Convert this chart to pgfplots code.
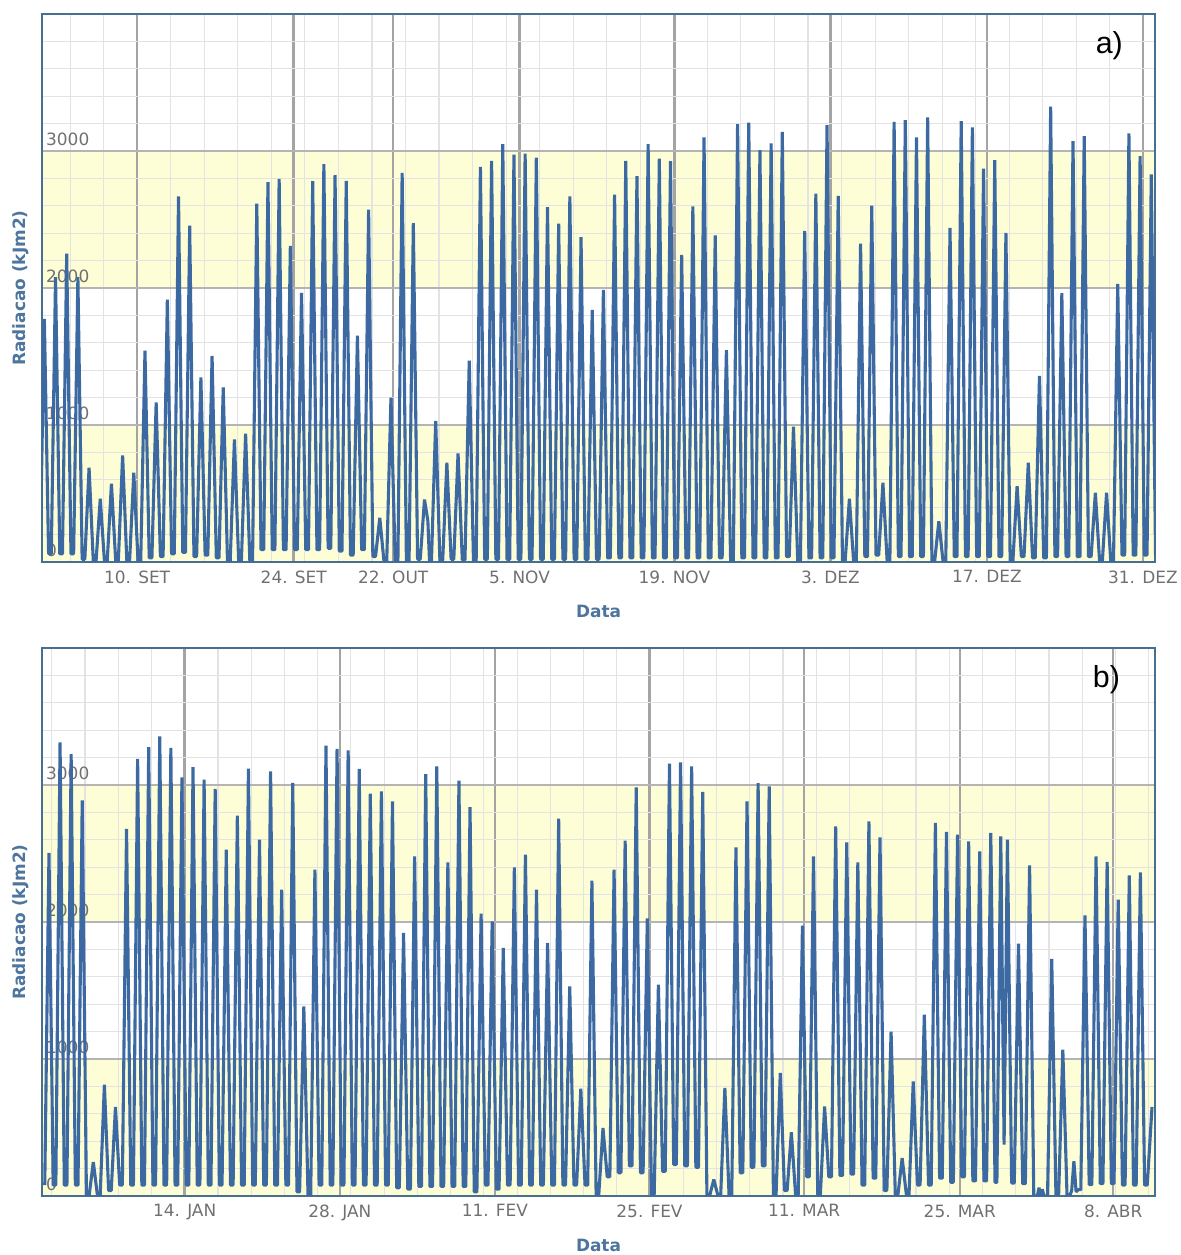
\documentclass[border=0pt]{standalone}
\usepackage{fontspec}
\setmainfont{DejaVu Sans}
\newfontfamily\arialfont{Liberation Sans}
\usepackage{pgfplots}
\pgfplotsset{compat=1.18}
\definecolor{serie}{HTML}{3C69A2}
\definecolor{band}{HTML}{FEFED6}
\definecolor{frame}{HTML}{466F91}
\definecolor{titlec}{HTML}{4D759E}
\definecolor{ticklab}{HTML}{707070}
\definecolor{majgrid}{HTML}{A4A4A4}
\definecolor{hgrid}{HTML}{B4B4B4}
\definecolor{mingrid}{HTML}{E3E3E3}
\pgfplotsset{
  radstyle/.style={
    set layers=standard,
    scale only axis, width=1113bp, height=548bp,
    ymin=0, ymax=4000,
    ytick={0,1000,2000,3000,4000},
    yticklabels={0,1000,2000,3000,{}},
    minor y tick num=4,
    ymajorgrids, xmajorgrids, yminorgrids, xminorgrids,
    every major x grid/.style={draw=majgrid, line width=2.5bp},
    every major y grid/.style={draw=hgrid, line width=1.4bp},
    every minor x grid/.style={draw=mingrid, line width=1.1bp},
    every minor y grid/.style={draw=mingrid, line width=1.1bp},
    major tick length=0pt, minor tick length=0pt,
    tick style={draw=none},
    axis line style={draw=frame, line width=1.8bp},
    tick label style={font=\fontsize{17}{20}\selectfont, text=ticklab},
    yticklabel style={anchor=base west, inner sep=0pt, xshift=4bp, yshift=5bp},
    xticklabel style={yshift=-5bp},
    xlabel={Data}, ylabel={Radiacao (kJm2)},
    label style={font=\fontsize{17}{20}\selectfont\bfseries, text=titlec},
    xlabel style={at={(axis description cs:0.5,0)}, anchor=center, yshift=-49bp},
    ylabel style={at={([xshift=-21bp]axis description cs:0,0.5)}, anchor=center},
  },
  serieline/.style={serie, line width=3.1bp, line join=bevel, mark=none},
  bandfill/.style={draw=none, fill=band, on layer=axis background, forget plot},
}
\begin{document}
\begin{tikzpicture}
% ---------------- panel a ----------------
\begin{axis}[radstyle, at={(42bp,693bp)}, anchor=south west,
  xmin=0.79, xmax=100.34,
  xtick={9.3,23.3,32.2,43.5,57.35,71.3,85.3,99.25},
  xticklabels={10. SET,24. SET,22. OUT,5. NOV,19. NOV,3. DEZ,17. DEZ,31. DEZ},
  minor xtick={0.3,3.3,...,99.3}]
\addplot[bandfill] coordinates {(0.79,0)(100.34,0)(100.34,1000)(0.79,1000)} -- cycle;
\addplot[bandfill] coordinates {(0.79,2000)(100.34,2000)(100.34,3000)(0.79,3000)} -- cycle;
\addplot[serieline] coordinates {
(0.62,60)(1,1774)(1.38,60) (1.62,60)(2,2079)(2.38,60) (2.62,60)(3,2250)(3.38,60)
(3.62,60)(4,2079)(4.38,20) (4.62,20)(5,688)(5.38,0) (5.62,0)(6,461)(6.38,0)
(6.62,0)(7,571)(7.38,10) (7.62,10)(8,778)(8.38,0) (8.62,0)(9,651)(9.38,5)
(9.62,5)(10,1542)(10.38,30) (10.62,30)(11,1164)(11.38,40) (11.62,40)(12,1915)(12.38,60)
(12.62,60)(13,2669)(13.38,70) (13.62,70)(14,2455)(14.38,40) (14.62,40)(15,1347)(15.38,50)
(15.62,50)(16,1505)(16.38,30) (16.62,30)(17,1274)(17.38,0) (17.62,0)(18,895)(18.38,0)
(18.62,0)(19,937)(19.38,0) (19.62,0)(20,2616)(20.38,90) (20.62,90)(21,2772)(21.38,90)
(21.62,90)(22,2796)(22.38,90) (22.62,90)(23,2308)(23.38,90) (23.62,90)(24,1964)(24.38,90)
(24.62,90)(25,2779)(25.38,90) (25.62,90)(26,2904)(26.38,100) (26.62,100)(27,2823)(27.38,80)
(27.62,80)(28,2782)(28.38,50) (28.62,50)(29,1652)(29.38,90) (29.62,90)(30,2572)(30.38,40)
(30.62,40)(31,322)(31.38,0) (31.62,0)(32,1200)(32.38,0) (32.62,0)(33,2840)(33.38,10)
(33.62,10)(34,2474)(34.38,20) (34.62,20)(35,456)(35.3,300)(35.45,0) (35.62,0)(36,1030)(36.38,0)
(36.62,0)(37,725)(37.38,20) (37.62,20)(38,793)(38.38,15) (38.62,15)(39,1469)(39.38,5)
(39.62,5)(40,2884)(40.38,20) (40.62,20)(41,2928)(41.38,20) (41.62,20)(42,3050)(42.38,20)
(42.62,20)(43,2974)(43.38,20) (43.62,20)(44,2981)(44.38,20) (44.62,20)(45,2952)(45.38,20)
(45.62,20)(46,2591)(46.38,20) (46.62,20)(47,2469)(47.38,20) (47.62,20)(48,2669)(48.38,20)
(48.62,20)(49,2372)(49.38,20) (49.62,20)(50,1840)(50.38,20) (50.62,20)(51,1986)(51.38,30)
(51.62,30)(52,2682)(52.38,30) (52.62,30)(53,2928)(53.38,30) (53.62,30)(54,2816)(54.38,30)
(54.62,30)(55,3050)(55.38,30) (55.62,30)(56,2945)(56.38,30) (56.62,30)(57,2926)(57.38,30)
(57.62,30)(58,2242)(58.38,30) (58.62,30)(59,2596)(59.38,30) (59.62,30)(60,3099)(60.38,30)
(60.62,30)(61,2384)(61.38,30) (61.62,30)(62,1547)(62.38,0) (62.62,0)(63,3196)(63.38,30)
(63.62,30)(64,3206)(64.38,30) (64.62,30)(65,3006)(65.38,30) (65.62,30)(66,3055)(66.38,30)
(66.62,30)(67,3140)(67.38,40) (67.62,40)(68,988)(68.38,0) (68.62,0)(69,2416)(69.38,30)
(69.62,30)(70,2689)(70.38,30) (70.62,30)(71,3189)(71.38,30) (71.62,30)(72,2672)(72.38,5)
(72.62,5)(73,461)(73.38,0) (73.62,0)(74,2323)(74.38,40) (74.62,40)(75,2601)(75.38,50)
(75.62,50)(76,578)(76.38,0) (76.62,0)(77,3213)(77.38,40) (77.62,40)(78,3226)(78.38,40)
(78.62,40)(79,3099)(79.38,40) (79.62,40)(80,3245)(80.38,0) (80.62,0)(81,298)(81.38,0)
(81.62,0)(82,2438)(82.38,40) (82.62,40)(83,3218)(83.38,40) (83.62,40)(84,3172)(84.38,40)
(84.62,40)(85,2872)(85.38,40) (85.62,40)(86,2933)(86.38,40) (86.62,40)(87,2403)(87.38,0)
(87.62,0)(88,554)(88.38,40) (88.62,40)(89,725)(89.38,30) (89.62,30)(90,1359)(90.38,30)
(90.62,30)(91,3323)(91.38,40) (91.62,40)(92,1962)(92.38,40) (92.62,40)(93,3072)(93.38,40)
(93.62,40)(94,3109)(94.38,40) (94.62,40)(95,505)(95.38,0) (95.62,0)(96,505)(96.38,0)
(96.62,0)(97,2030)(97.38,50) (97.62,50)(98,3128)(98.38,50) (98.62,50)(99,2962)(99.38,50)
(99.62,50)(100,2830)(100.38,50)
};
\node[font=\arialfont\fontsize{30.5}{36}\selectfont, anchor=base west, inner sep=0pt] at (rel axis cs:0.9466,0.9283) {a)};
\end{axis}
% ---------------- panel b ----------------
\begin{axis}[radstyle, at={(42bp,59bp)}, anchor=south west,
  xmin=0.37, xmax=100.82,
  xtick={13.25,27.25,41.25,55.2,69.15,83.2,97.05},
  xticklabels={14. JAN,28. JAN,11. FEV,25. FEV,11. MAR,25. MAR,8. ABR},
  minor xtick={1.25,4.25,...,100.25}]
\addplot[bandfill] coordinates {(0.37,0)(100.82,0)(100.82,1000)(0.37,1000)} -- cycle;
\addplot[bandfill] coordinates {(0.37,2000)(100.82,2000)(100.82,3000)(0.37,3000)} -- cycle;
\addplot[serieline] coordinates {
(0.62,80)(1,2504)(1.38,80) (1.62,80)(2,3311)(2.38,80) (2.62,80)(3,3226)(3.38,80)
(3.62,80)(4,2888)(4.38,0) (4.62,0)(5,248)(5.38,0) (5.62,0)(6,813)(6.38,40)
(6.62,40)(7,650)(7.38,80) (7.62,80)(8,2679)(8.38,80) (8.62,80)(9,3190)(9.38,80)
(9.62,80)(10,3277)(10.38,80) (10.62,80)(11,3355)(11.38,80) (11.62,80)(12,3270)(12.38,80)
(12.62,80)(13,3056)(13.38,80) (13.62,80)(14,3131)(14.38,80) (14.62,80)(15,3039)(15.38,80)
(15.62,80)(16,2971)(16.38,80) (16.62,80)(17,2528)(17.38,80) (17.62,80)(18,2776)(18.38,80)
(18.62,80)(19,3119)(19.38,80) (19.62,80)(20,2601)(20.38,80) (20.62,80)(21,3100)(21.38,80)
(21.62,80)(22,2236)(22.38,80) (22.62,80)(23,3015)(23.38,30) (23.62,30)(24,1384)(24.38,0)
(24.62,0)(25,2382)(25.38,80) (25.62,80)(26,3287)(26.38,80) (26.62,80)(27,3263)(27.38,80)
(27.62,80)(28,3253)(28.38,80) (28.62,80)(29,3117)(29.38,80) (29.62,80)(30,2937)(30.38,80)
(30.62,80)(31,2954)(31.38,80) (31.62,80)(32,2881)(32.38,60) (32.62,60)(33,1920)(33.38,50)
(33.62,50)(34,2479)(34.38,70) (34.62,70)(35,3080)(35.38,70) (35.62,70)(36,3136)(36.38,70)
(36.62,70)(37,2435)(37.38,70) (37.62,70)(38,3032)(38.38,70) (38.62,70)(39,2839)(39.38,30)
(39.62,30)(40,2061)(40.38,80) (40.62,80)(41,2005)(41.38,50) (41.62,50)(42,1810)(42.38,80)
(42.62,80)(43,2399)(43.38,80) (43.62,80)(44,2491)(44.38,80) (44.62,80)(45,2236)(45.38,80)
(45.62,80)(46,1847)(46.38,80) (46.62,80)(47,2754)(47.38,80) (47.62,80)(48,1530)(48.38,80)
(48.62,80)(49,783)(49.38,80) (49.62,80)(50,2302)(50.38,10) (50.62,10)(51,496)(51.38,140)
(51.62,140)(52,2382)(52.38,170) (52.62,170)(53,2594)(53.38,220) (53.62,220)(54,2983)(54.38,170)
(54.62,170)(55,2027)(55.38,10) (55.62,10)(56,1543)(56.38,180) (56.62,180)(57,3156)(57.38,230)
(57.62,230)(58,3165)(58.38,220) (58.62,220)(59,3136)(59.38,210) (59.62,210)(60,2949)(60.38,0)
(60.62,0)(61,120)(61.38,0) (61.62,0)(62,788)(62.38,0) (62.62,0)(63,2545)(63.38,170)
(63.62,170)(64,2881)(64.38,210) (64.62,210)(65,3014)(65.38,220) (65.62,220)(66,2990)(66.38,10)
(66.62,10)(67,898)(67.38,40) (67.62,40)(68,465)(68.38,10) (68.62,10)(69,1973)(69.38,140)
(69.62,140)(70,2479)(70.38,10) (70.62,10)(71,654)(71.38,140) (71.62,140)(72,2698)(72.38,150)
(72.62,150)(73,2581)(73.38,160) (73.62,160)(74,2435)(74.38,80) (74.62,80)(75,2735)(75.38,130)
(75.62,130)(76,2618)(76.38,40) (76.62,40)(77,1200)(77.38,10) (77.62,10)(78,277)(78.38,10)
(78.62,10)(79,837)(79.38,80) (79.62,80)(80,1324)(80.38,80) (80.62,80)(81,2723)(81.38,130)
(81.62,130)(82,2657)(82.38,100) (82.62,100)(83,2637)(83.38,140) (83.62,140)(84,2589)(84.38,110)
(84.62,110)(85,2516)(85.38,110) (85.62,110)(86,2650)(86.38,100)
(86.55,100)(86.9,2625)(87.2,375)(87.5,2601)(87.88,95)
(88.12,95)(88.5,1842)(88.88,90) (89.12,90)(89.5,2414)(89.88,0)
(90.2,0)(90.35,60)(90.5,0)(90.65,50)(90.8,0)
(91.12,0)(91.5,1730)(91.88,0) (92.12,0)(92.5,1068)(92.88,0)
(93.12,0)(93.3,40)(93.5,253)(93.7,30)(93.88,46)
(94.12,46)(94.5,2049)(94.88,83) (95.12,83)(95.5,2479)(95.88,90) (96.12,90)(96.5,2438)(96.88,90)
(97.12,90)(97.5,2163)(97.88,80) (98.12,80)(98.5,2341)(98.88,80) (99.12,80)(99.5,2362)(99.88,80)
(100.12,80)(100.55,650)
};
\node[font=\arialfont\fontsize{30.5}{36}\selectfont, anchor=base west, inner sep=0pt] at (rel axis cs:0.9440,0.9283) {b)};
\end{axis}
\path (0,0) rectangle (1181bp,1255bp);
\end{tikzpicture}
\end{document}
